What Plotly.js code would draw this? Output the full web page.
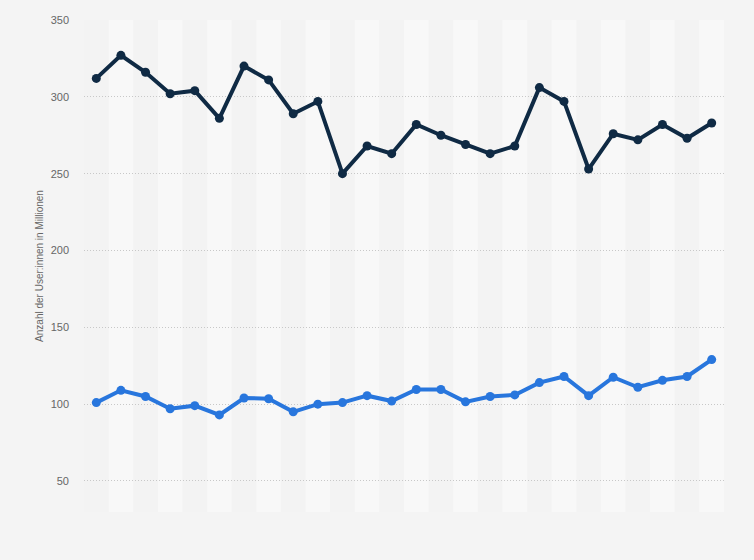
<!DOCTYPE html>
<html>
<head>
<meta charset="utf-8">
<script src="https://cdn.plot.ly/plotly-3.0.1.min.js"></script>
<style>html,body{margin:0;padding:0;background:#f4f4f4;}#chart{width:754px;height:560px;}</style>
</head>
<body>
<div id="chart"></div>
<script>
var categories = [1,2,3,4,5,6,7,8,9,10,11,12,13,14,15,16,17,18,19,20,21,22,23,24,25,26];
var seriesDark = [312,327,316,302,304,286,320,311,289,297,250,268,263,282,275,269,263,268,306,297,253,276,272,282,273,283];
var seriesBlue = [101,109,105,97,99,93,104,103.5,95,100,101,105.5,102,109.5,109.5,101.5,105,106,114,118,105.5,117.5,111,115.5,118,129];
var yTicks = [50,100,150,200,250,300,350];

var xIdx = categories.map(function(c, i){ return i; });
var shapes = [];
for (var i = 1; i < categories.length; i += 2) {
  shapes.push({type:'rect', xref:'x', yref:'paper', x0:i-0.5, x1:i+0.5, y0:0, y1:1,
    fillcolor:'#f8f8f8', line:{width:0}, layer:'below'});
}

var traces = [
  {x:xIdx, y:seriesDark, type:'scatter', mode:'lines+markers', name:'Serie 1',
   line:{color:'#0f2a44', width:4}, marker:{color:'#0f2a44', size:9}},
  {x:xIdx, y:seriesBlue, type:'scatter', mode:'lines+markers', name:'Serie 2',
   line:{color:'#2876dd', width:4}, marker:{color:'#2876dd', size:9}}
];

var layout = {
  width:754, height:560,
  paper_bgcolor:'#f4f4f4', plot_bgcolor:'#f3f3f3',
  margin:{l:84, r:30, t:20, b:48},
  showlegend:false,
  shapes:shapes,
  xaxis:{range:[-0.5, categories.length-0.5], showticklabels:false, showgrid:false, zeroline:false, showline:false, fixedrange:true},
  yaxis:{range:[29.8, 350], tickvals:yTicks, ticktext:yTicks.map(String),
    showgrid:true, gridcolor:'#c8c8c8', griddash:'1px,2px', gridwidth:1, zeroline:false, showline:false,
    ticklabelstandoff:14,
    tickfont:{family:'Liberation Sans, Arial, sans-serif', size:11, color:'#666666'},
    title:{text:'Anzahl der User:innen in Millionen', standoff:5,
      font:{family:'Liberation Sans, Arial, sans-serif', size:10, color:'#666666'}}}
};

Plotly.newPlot('chart', traces, layout, {displayModeBar:false, staticPlot:true});
</script>
</body>
</html>
